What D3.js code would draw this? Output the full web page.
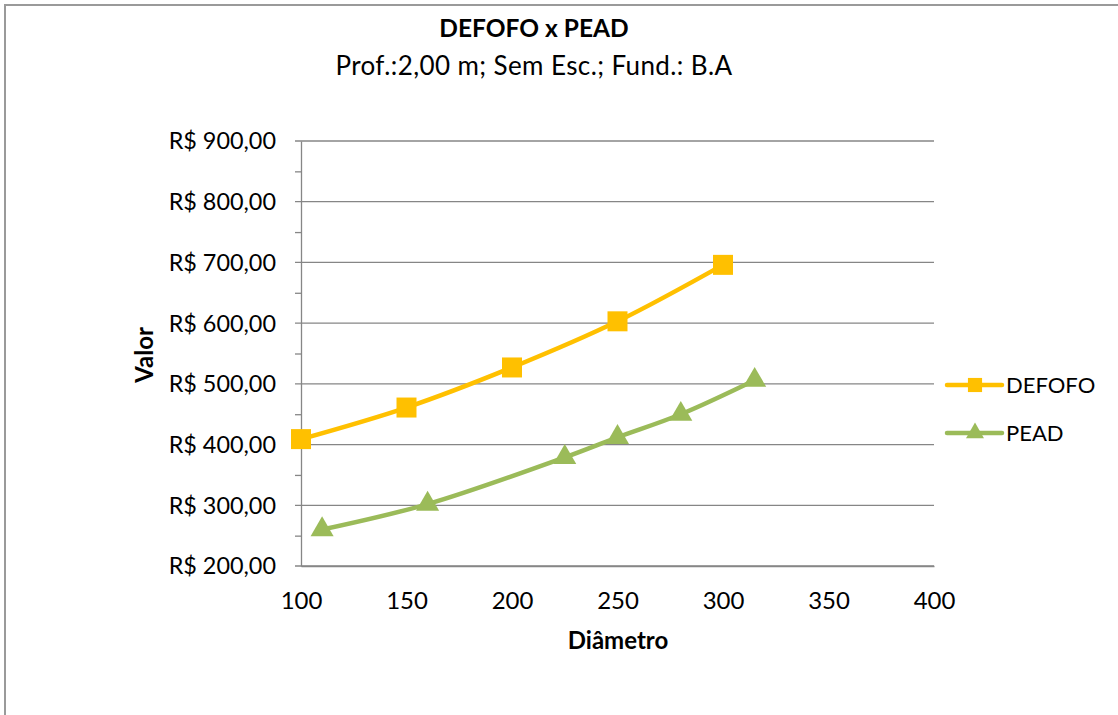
<!DOCTYPE html>
<html>
<head>
<meta charset="utf-8">
<script src="https://cdn.jsdelivr.net/npm/d3@7"></script>
<style>
  html, body { margin: 0; padding: 0; background: #fff; }
  svg text { font-family: Lato, "Open Sans", sans-serif; fill: #000; }
</style>
</head>
<body>
<svg id="chart" width="1118" height="715"></svg>
<script>
// Data
const seriesNames = ['DEFOFO', 'PEAD'];
const defofoDiam = [100, 150, 200, 250, 300];
const defofoValue = [409, 461, 527, 603, 696];
const peadDiam = [110, 160, 225, 250, 280, 315];
const peadValue = [260, 302, 379, 412, 450, 506];
const xTicks = [100, 150, 200, 250, 300, 350, 400];
const yTicks = [200, 300, 400, 500, 600, 700, 800, 900];
const yMinorTicks = [250, 350, 450, 550, 650, 750, 850];

const svg = d3.select('#chart');
const margin = { top: 141, right: 184, bottom: 149, left: 301 };
const width = 1118 - margin.left - margin.right;
const height = 715 - margin.top - margin.bottom;

// outer frame
svg.append('rect')
    .attr('x', 5).attr('y', 5)
    .attr('width', 1130).attr('height', 730)
    .attr('fill', 'none')
    .attr('stroke', '#9a9a9a')
    .attr('stroke-width', 2);

// titles
svg.append('text')
    .attr('x', 534).attr('y', 37)
    .attr('text-anchor', 'middle')
    .attr('font-size', 24.5).attr('font-weight', 'bold')
    .text('DEFOFO x PEAD');
svg.append('text')
    .attr('x', 534).attr('y', 75)
    .attr('text-anchor', 'middle')
    .attr('font-size', 26)
    .attr('letter-spacing', 0.4)
    .text('Prof.:2,00 m; Sem Esc.; Fund.: B.A');

const g = svg.append('g')
    .attr('transform', `translate(${margin.left}, ${margin.top})`);

// Scales
let xScale = d3.scaleLinear().domain([100, 400]).range([0, width]);
let yScale = d3.scaleLinear().domain([200, 900]).range([height, 0]);

// Gridlines
g.selectAll('.grid')
    .data(yTicks)
    .enter()
    .append('line')
    .attr('x1', -6).attr('x2', width)
    .attr('y1', d => yScale(d)).attr('y2', d => yScale(d))
    .attr('stroke', '#868686')
    .attr('stroke-width', 1.3);

// Y axis
let yAxis = d3.axisLeft(yScale)
    .tickValues(yMinorTicks)
    .tickSizeInner(6)
    .tickSizeOuter(0)
    .tickFormat('');
let ay = g.append('g').call(yAxis);
ay.selectAll('line, path').attr('stroke', '#868686').attr('stroke-width', 1.3);

g.selectAll('.ylab')
    .data(yTicks)
    .enter()
    .append('text')
    .attr('x', -25)
    .attr('y', d => yScale(d))
    .attr('dy', '0.36em')
    .attr('text-anchor', 'end')
    .attr('font-size', 23.4)
    .text(d => 'R$ ' + d3.format('.2f')(d).replace('.', ','));

// X axis
let xAxis = d3.axisBottom(xScale)
    .tickValues(xTicks)
    .tickSize(0)
    .tickPadding(26)
    .tickFormat(d3.format('d'));
let ax = g.append('g')
    .attr('transform', `translate(0, ${height})`)
    .call(xAxis);
ax.select('path').attr('stroke', '#868686').attr('stroke-width', 1.3);
ax.selectAll('text').attr('font-size', 24).attr('fill', '#000')
    .style('font-family', 'Lato, "Open Sans", sans-serif');

// axis titles
svg.append('text')
    .attr('transform', 'translate(153, 355) rotate(-90)')
    .attr('text-anchor', 'middle')
    .attr('font-size', 24).attr('font-weight', 'bold')
    .text('Valor');
svg.append('text')
    .attr('x', 618).attr('y', 649)
    .attr('text-anchor', 'middle')
    .attr('font-size', 24).attr('font-weight', 'bold')
    .text('Diâmetro');

// Lines
let line = d3.line()
    .x(d => xScale(d[0]))
    .y(d => yScale(d[1]))
    .curve(d3.curveCatmullRom.alpha(0.5));

const series = [
    { name: seriesNames[0], color: '#FFC000', pts: d3.zip(defofoDiam, defofoValue), marker: d3.symbolSquare },
    { name: seriesNames[1], color: '#9BBB59', pts: d3.zip(peadDiam, peadValue), marker: d3.symbolTriangle }
];

series.forEach(s => {
    g.append('path')
        .attr('d', line(s.pts))
        .attr('fill', 'none')
        .attr('stroke', s.color)
        .attr('stroke-width', 4.5)
        .attr('stroke-linejoin', 'round');
});

series.forEach(s => {
    let sym = d3.symbol().type(s.marker).size(s.marker === d3.symbolSquare ? 400 : 230);
    g.selectAll('.m-' + s.name)
        .data(s.pts)
        .enter()
        .append('path')
        .attr('d', sym)
        .attr('transform', d => `translate(${xScale(d[0])}, ${yScale(d[1])})`)
        .attr('fill', s.color);
});

// Legend
const legend = svg.append('g').attr('transform', 'translate(947, 385)');
series.forEach((s, i) => {
    let row = legend.append('g').attr('transform', `translate(0, ${i * 48})`);
    row.append('line')
        .attr('x1', 0).attr('x2', 55)
        .attr('stroke', s.color).attr('stroke-width', 4.5)
        .attr('stroke-linecap', 'round');
    row.append('path')
        .attr('d', d3.symbol().type(s.marker).size(s.marker === d3.symbolSquare ? 200 : 140))
        .attr('transform', 'translate(28, 0)')
        .attr('fill', s.color);
    row.append('text')
        .attr('x', 59).attr('dy', '0.36em')
        .attr('font-size', 22)
        .text(s.name);
});
</script>
</body>
</html>
